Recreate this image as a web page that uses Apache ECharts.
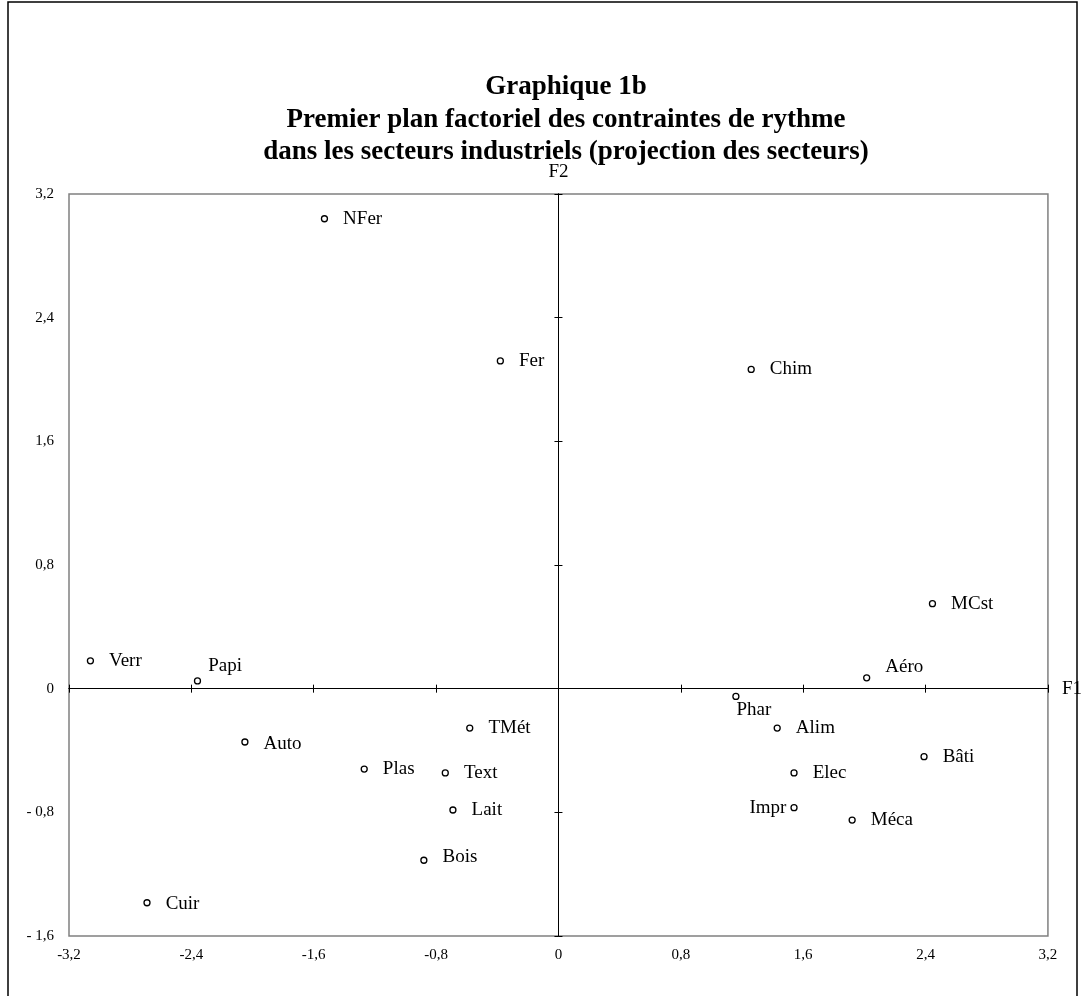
<!DOCTYPE html>
<html>
<head>
<meta charset="utf-8">
<script src="https://cdn.jsdelivr.net/npm/echarts@6/dist/echarts.min.js"></script>
<style>html,body{margin:0;padding:0;background:#fff}#c{width:1085px;height:996px}</style>
</head>
<body>
<div id="c"></div>
<script>
// ---- data ----
var sectors = ['NFer','Fer','Chim','MCst','Verr','Papi','Aéro','Phar','TMét','Alim','Auto','Bâti','Plas','Text','Elec','Lait','Impr','Méca','Bois','Cuir'];
var f1 = [-1.53,-0.38,1.26,2.445,-3.06,-2.36,2.015,1.16,-0.58,1.43,-2.05,2.39,-1.27,-0.74,1.54,-0.69,1.54,1.92,-0.88,-2.69];
var f2 = [3.04,2.12,2.065,0.55,0.18,0.05,0.07,-0.05,-0.255,-0.255,-0.345,-0.44,-0.52,-0.545,-0.545,-0.785,-0.77,-0.85,-1.11,-1.385];
var xTickLabels = ['-3,2','-2,4','-1,6','-0,8','0','0,8','1,6','2,4','3,2'];
var yTickLabels = ['- 1,6','- 0,8','0','0,8','1,6','2,4','3,2'];
var xMin = -3.2, xMax = 3.2, yMin = -1.6, yMax = 3.2, step = 0.8;

// label placement (style only)
var labelStyle = {
  'Papi': {offset: [-8, -15]},
  'Aéro': {offset: [0, -11]},
  'Phar': {offset: [-18, 14]},
  'Impr': {position: 'left', distance: 4},
  'Bois': {offset: [0, -3]},
  'Auto': {offset: [0, 2]},
  'Cuir': {offset: [0, 1]}
};

var serif = '"Liberation Serif", "Times New Roman", serif';
var points = sectors.map(function (n, i) {
  var item = {name: n, value: [f1[i], f2[i]]};
  if (labelStyle[n]) item.label = labelStyle[n];
  return item;
});

function xFmt(v) { return xTickLabels[Math.round((v - xMin) / step)] || ''; }
function yFmt(v) { return yTickLabels[Math.round((v - yMin) / step)] || ''; }

var chart = echarts.init(document.getElementById('c'));
var tickAxisBase = {
  type: 'value', min: xMin, max: xMax, interval: step,
  splitLine: {show: false}, axisLabel: {show: false}
};
chart.setOption({
  animation: false,
  backgroundColor: '#fff',
  title: {
    text: 'Graphique 1b\nPremier plan factoriel des contraintes de rythme\ndans les secteurs industriels (projection des secteurs)',
    left: 561, top: 66, textAlign: 'center',
    textStyle: {fontFamily: serif, fontWeight: 'bold', fontSize: 27, lineHeight: 32.5, color: '#000'}
  },
  graphic: [{
    type: 'rect', shape: {x: 8, y: 2, width: 1069, height: 1010},
    style: {fill: 'none', stroke: '#000', lineWidth: 1.5}, silent: true
  }],
  grid: {left: 69, top: 194, right: 33, bottom: 60, show: true, borderColor: '#808080', borderWidth: 1.5, containLabel: false},
  xAxis: [
    {type: 'value', min: xMin, max: xMax, interval: step, position: 'bottom',
     axisLine: {show: false, onZero: false}, axisTick: {show: false}, splitLine: {show: false},
     axisLabel: {formatter: xFmt, fontFamily: serif, fontSize: 15, color: '#000', margin: 12}},
    Object.assign({}, tickAxisBase, {position: 'bottom',
     axisLine: {show: true, onZero: true, onZeroAxisIndex: 0, lineStyle: {color: '#000', width: 1}},
     axisTick: {show: true, length: 4, lineStyle: {color: '#000'}},
     name: 'F1', nameLocation: 'end', nameGap: 14,
     nameTextStyle: {fontFamily: serif, fontSize: 19, color: '#000', verticalAlign: 'middle'}}),
    Object.assign({}, tickAxisBase, {position: 'top',
     axisLine: {show: true, onZero: true, onZeroAxisIndex: 0, lineStyle: {color: '#000', width: 1}},
     axisTick: {show: true, length: 4, lineStyle: {color: '#000'}}})
  ],
  yAxis: [
    {type: 'value', min: yMin, max: yMax, interval: step, position: 'left',
     axisLine: {show: false, onZero: false}, axisTick: {show: false}, splitLine: {show: false},
     axisLabel: {formatter: yFmt, fontFamily: serif, fontSize: 15, color: '#000', margin: 15}},
    {type: 'value', min: yMin, max: yMax, interval: step, position: 'left',
     splitLine: {show: false}, axisLabel: {show: false},
     axisLine: {show: true, onZero: true, onZeroAxisIndex: 0, lineStyle: {color: '#000', width: 1}},
     axisTick: {show: true, length: 4, lineStyle: {color: '#000'}},
     name: 'F2', nameLocation: 'end', nameGap: 12,
     nameTextStyle: {fontFamily: serif, fontSize: 19, color: '#000'}},
    {type: 'value', min: yMin, max: yMax, interval: step, position: 'right',
     splitLine: {show: false}, axisLabel: {show: false},
     axisLine: {show: true, onZero: true, onZeroAxisIndex: 0, lineStyle: {color: '#000', width: 1}},
     axisTick: {show: true, length: 4, lineStyle: {color: '#000'}}}
  ],
  series: [{
    type: 'scatter', xAxisIndex: 0, yAxisIndex: 0,
    symbol: 'circle', symbolSize: 6,
    itemStyle: {color: '#fff', borderColor: '#000', borderWidth: 1.3, opacity: 1},
    label: {show: true, position: 'right', distance: 15, formatter: '{b}',
      fontFamily: serif, fontSize: 19, color: '#000'},
    data: points,
    z: 10
  }]
});
</script>
</body>
</html>
